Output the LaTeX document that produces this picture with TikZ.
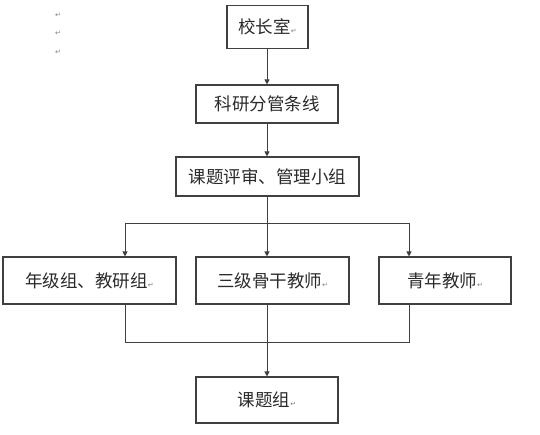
\documentclass[tikz,border=0pt]{standalone}
\usepackage{fontspec}
\newfontfamily\cjk{Noto Sans CJK SC}
\newfontfamily\sym{DejaVu Sans}
\usetikzlibrary{arrows.meta}
\definecolor{ln}{HTML}{404040}
\definecolor{tx}{HTML}{2a2a2a}
\newcommand{\parmark}{{\sym\fontsize{7}{7}\selectfont\textcolor{gray}{↵}}}
\begin{document}
\begin{tikzpicture}[x=1pt,y=-1pt,
  box/.style={draw=ln,line width=1.1pt,rectangle,inner sep=0pt,text=tx,font=\cjk\fontsize{17.5}{20}\selectfont},
  con/.style={draw=ln,line width=0.9pt},
  arr/.style={con,-{Triangle[length=5pt,width=5pt]}}]
\useasboundingbox (0,0) rectangle (540,435);
\node[box,minimum width=81pt,minimum height=43pt] (a) at (267.5,27) {校长室\parmark};
\node[box,minimum width=142pt,minimum height=38pt] (b) at (267,104) {科研分管条线};
\node[box,minimum width=183pt,minimum height=39pt] (c) at (267.5,176.5) {课题评审、管理小组};
\node[box,minimum width=173pt,minimum height=47pt] (l) at (89.5,280.5) {年级组、教研组\parmark};
\node[box,minimum width=153pt,minimum height=47pt] (m) at (272.5,280.5) {三级骨干教师\parmark};
\node[box,minimum width=132pt,minimum height=47pt] (r) at (445,280.5) {青年教师\parmark};
\node[box,minimum width=142pt,minimum height=46pt] (d) at (267,400) {课题组\parmark};
\coordinate (h) at (267,223);
\coordinate (hl) at (125,223);
\coordinate (hr) at (409,223);
\coordinate (j) at (267,342);
\coordinate (jl) at (125,342);
\coordinate (jr) at (409,342);
\draw[arr] (a.south -| h) -- (b.north -| h);
\draw[arr] (b.south -| h) -- (c.north -| h);
\draw[con] (c.south -| h) -- (h);
\draw[con] (hl) -- (hr);
\draw[arr] (hl) -- (l.north -| hl);
\draw[arr] (h) -- (m.north -| h);
\draw[arr] (hr) -- (r.north -| hr);
\draw[con] (l.south -| jl) -- (jl) -- (jr) -- (r.south -| jr);
\draw[arr] (m.south -| j) -- (d.north -| j);
\node[text=gray,font=\sym\fontsize{7}{7}\selectfont] (p1) at (58,15) {↵};
\node[text=gray,font=\sym\fontsize{7}{7}\selectfont] (p2) at (58,33) {↵};
\node[text=gray,font=\sym\fontsize{7}{7}\selectfont] (p3) at (58,52) {↵};
\end{tikzpicture}
\end{document}
